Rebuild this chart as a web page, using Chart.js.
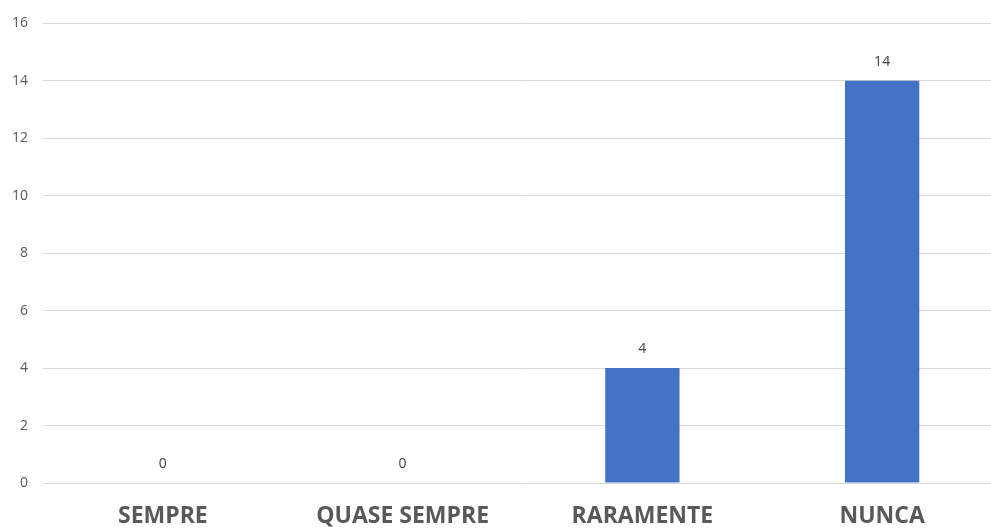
<!DOCTYPE html>
<html>
<head>
<meta charset="utf-8">
<script src="https://cdn.jsdelivr.net/npm/chart.js@4/dist/chart.umd.min.js"></script>
<style>
  html, body { margin: 0; padding: 0; background: #fff; overflow: hidden; }
  #wrap { width: 1002px; height: 528px; position: relative; }
</style>
</head>
<body>
<div id="wrap"><canvas id="chart"></canvas></div>
<script>
const categories = ['SEMPRE', 'QUASE SEMPRE', 'RARAMENTE', 'NUNCA'];
const counts = [0, 0, 4, 14];
const yTicks = [0, 2, 4, 6, 8, 10, 12, 14, 16];

// value labels above each bar
const valueLabels = {
    id: 'valueLabels',
    afterDatasetsDraw(chart) {
        const ctx = chart.ctx;
        const meta = chart.getDatasetMeta(0);
        ctx.save();
        ctx.font = '14px "Open Sans", sans-serif';
        ctx.fillStyle = '#404040';
        ctx.textAlign = 'center';
        ctx.textBaseline = 'middle';
        meta.data.forEach((bar, i) => {
            ctx.fillText(String(counts[i]), bar.x, bar.y - 19);
        });
        ctx.restore();
    }
};

new Chart(document.getElementById('chart'), {
    type: 'bar',
    data: {
        labels: categories,
        datasets: [{
            data: counts,
            backgroundColor: '#4472C4',
            borderColor: '#4472C4',
            borderWidth: 0,
            categoryPercentage: 1,
            barPercentage: 0.31
        }]
    },
    options: {
        responsive: true,
        maintainAspectRatio: false,
        animation: false,
        layout: { padding: { top: 14, right: 0, left: 0, bottom: 0 } },
        plugins: {
            legend: { display: false },
            tooltip: { enabled: false }
        },
        scales: {
            y: {
                min: 0,
                max: 16,
                afterBuildTicks: axis => { axis.ticks = yTicks.map(v => ({ value: v })); },
                afterFit: axis => { axis.width = 43; },
                border: { display: false },
                grid: { color: '#d9d9d9', lineWidth: 1, drawTicks: false },
                ticks: {
                    padding: 15,
                    color: '#595959',
                    font: { family: '"Open Sans", sans-serif', size: 14 }
                }
            },
            x: {
                afterFit: axis => { axis.height = 45; },
                border: { display: false },
                grid: { display: false, drawTicks: false },
                ticks: {
                    padding: 20,
                    color: '#595959',
                    font: { family: '"Open Sans", sans-serif', size: 23, weight: 'bold' }
                }
            }
        }
    },
    plugins: [valueLabels]
});
</script>
</body>
</html>
